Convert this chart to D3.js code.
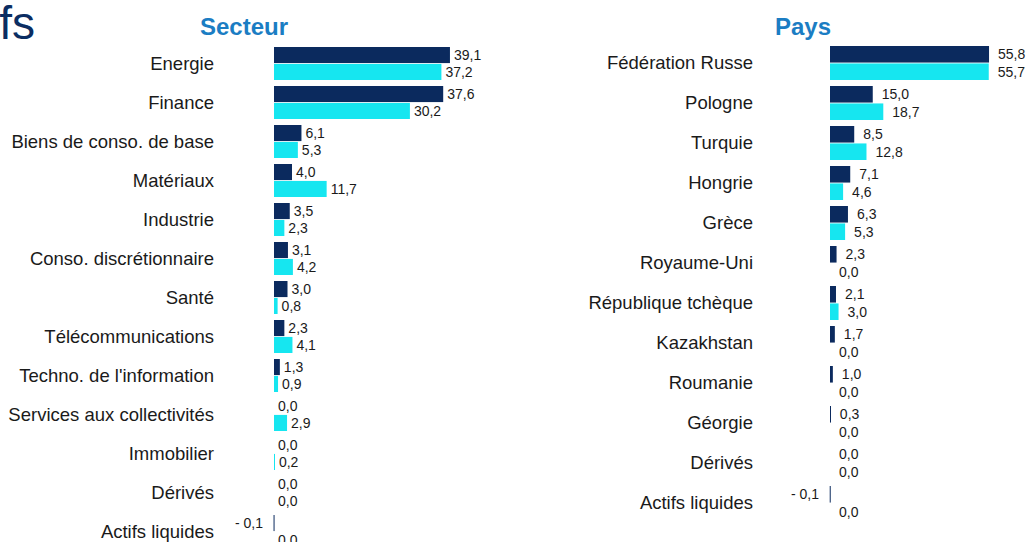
<!DOCTYPE html>
<html>
<head>
<meta charset="utf-8">
<script src="https://cdn.jsdelivr.net/npm/d3@7"></script>
<style>
  body { margin: 0; background: #fff; }
  svg { display: block; font-family: Arial, "Liberation Sans", sans-serif; }
</style>
</head>
<body>
<div id="chart"></div>
<script>
// data
const secteurs = ["Energie", "Finance", "Biens de conso. de base", "Matériaux", "Industrie",
  "Conso. discrétionnaire", "Santé", "Télécommunications", "Techno. de l'information",
  "Services aux collectivités", "Immobilier", "Dérivés", "Actifs liquides"];
const secteurFonds = [39.1, 37.6, 6.1, 4.0, 3.5, 3.1, 3.0, 2.3, 1.3, 0.0, 0.0, 0.0, -0.1];
const secteurIndice = [37.2, 30.2, 5.3, 11.7, 2.3, 4.2, 0.8, 4.1, 0.9, 2.9, 0.2, 0.0, 0.0];

const pays = ["Fédération Russe", "Pologne", "Turquie", "Hongrie", "Grèce", "Royaume-Uni",
  "République tchèque", "Kazakhstan", "Roumanie", "Géorgie", "Dérivés", "Actifs liquides"];
const paysFonds = [55.8, 15.0, 8.5, 7.1, 6.3, 2.3, 2.1, 1.7, 1.0, 0.3, 0.0, -0.1];
const paysIndice = [55.7, 18.7, 12.8, 4.6, 5.3, 0.0, 3.0, 0.0, 0.0, 0.0, 0.0, 0.0];

const series = ["fonds", "indice"];
const colors = { fonds: "#0b2a5e", indice: "#16e6f0" };

const W = 1029, H = 542;
const svg = d3.select("#chart").append("svg").attr("width", W).attr("height", H);

// cut-off page title at top-left
svg.append("text")
  .text("actifs")
  .attr("x", 35).attr("y", 39)
  .attr("text-anchor", "end")
  .attr("font-size", 46)
  .attr("fill", "#0b2d62");

const fmt = v => (v < 0 ? "- " : "") + Math.abs(v).toFixed(1).replace(".", ",");

function panel(cfg) {
  const rows = cfg.cats.map((c, i) => ({ cat: c, fonds: cfg.a[i], indice: cfg.b[i] }));
  const g = svg.append("g");

  const x = d3.scaleLinear()
    .domain([0, d3.max(cfg.a.concat(cfg.b))])
    .range([cfg.x0, cfg.x0 + cfg.pxPerUnit * d3.max(cfg.a.concat(cfg.b))]);

  const y0 = d3.scaleBand()
    .domain(cfg.cats)
    .range([cfg.top, cfg.top + cfg.cats.length * cfg.step])
    .paddingInner(cfg.pad).paddingOuter(cfg.pad / 2);
  const y1 = d3.scaleBand().domain(series).range([0, y0.bandwidth()]).paddingInner(0.05);

  g.append("text")
    .text(cfg.title)
    .attr("x", cfg.titleX).attr("y", 35)
    .attr("text-anchor", "middle")
    .attr("font-size", 24).attr("font-weight", "bold")
    .attr("fill", "#1b7dc3");

  // category labels
  g.selectAll(".cat").data(rows).enter().append("text")
    .attr("class", "cat")
    .attr("x", cfg.labelX)
    .attr("y", d => y0(d.cat) + y0.bandwidth() / 2)
    .attr("dy", "0.35em")
    .attr("text-anchor", "end")
    .attr("font-size", 18.5)
    .attr("fill", "#1a1a1a")
    .text(d => d.cat);

  const grp = g.selectAll(".row").data(rows).enter().append("g")
    .attr("transform", d => "translate(0," + y0(d.cat) + ")");

  const cells = grp.selectAll("g").data(d => series.map(k => ({ key: k, v: d[k] })))
    .enter().append("g");

  cells.filter(d => d.v !== 0).append("rect")
    .attr("x", d => x(Math.min(0, d.v)))
    .attr("y", d => y1(d.key))
    .attr("width", d => Math.max(1, Math.abs(x(d.v) - x(0))))
    .attr("height", y1.bandwidth())
    .attr("fill", d => colors[d.key]);

  cells.append("text")
    .attr("x", d => d.v < 0 ? x(0) - 11 : x(d.v) + cfg.labelGap)
    .attr("y", d => y1(d.key) + y1.bandwidth() / 2)
    .attr("dy", "0.35em")
    .attr("text-anchor", d => d.v < 0 ? "end" : "start")
    .attr("font-size", 14)
    .attr("fill", "#1a1a1a")
    .text(d => fmt(d.v));
}

panel({ title: "Secteur", titleX: 244, cats: secteurs, a: secteurFonds, b: secteurIndice,
  x0: 274, pxPerUnit: 4.5, top: 44, step: 39, pad: 0.154, labelX: 214, labelGap: 4 });

panel({ title: "Pays", titleX: 803, cats: pays, a: paysFonds, b: paysIndice,
  x0: 830, pxPerUnit: 2.85, top: 43, step: 40, pad: 0.15, labelX: 753, labelGap: 9 });
</script>
</body>
</html>
